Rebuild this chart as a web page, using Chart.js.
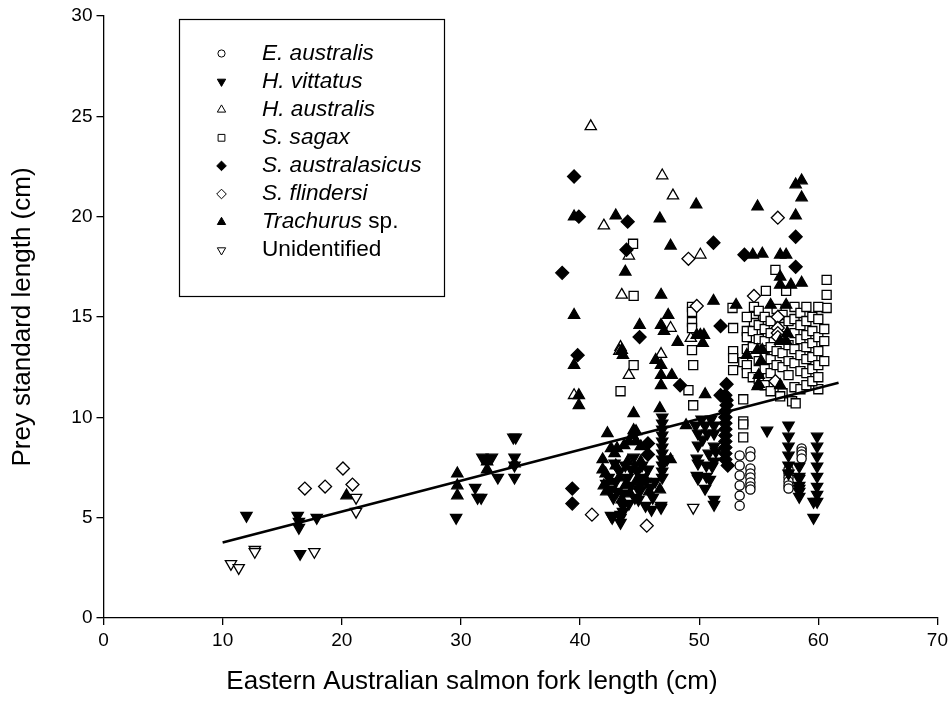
<!DOCTYPE html>
<html>
<head>
<meta charset="utf-8">
<script src="https://cdn.jsdelivr.net/npm/chart.js@4.4.1/dist/chart.umd.min.js"></script>
<style>
  html, body { margin: 0; padding: 0; background: #fff; }
</style>
</head>
<body>
<canvas id="myChart" width="952" height="719"></canvas>
<script>
// prey size vs salmon fork length, one array per prey species
const seriesNames = ['E. australis', 'H. vittatus', 'H. australis', 'S. sagax',
  'S. australasicus', 'S. flindersi', 'Trachurus sp.', 'Unidentified'];
const italicParts = ['E. australis', 'H. vittatus', 'H. australis', 'S. sagax',
  'S. australasicus', 'S. flindersi', 'Trachurus', ''];

const xTicks = [0, 10, 20, 30, 40, 50, 60, 70];
const yTicks = [0, 5, 10, 15, 20, 25, 30];

const eAustralis = [
  [53.4, 8.1], [53.4, 7.6], [53.4, 7.1], [53.4, 6.6], [53.4, 6.1], [53.4, 5.6],
  [54.3, 8.3], [54.3, 8.05], [54.3, 7.45], [54.3, 7.2], [54.3, 7.0], [54.3, 6.75], [54.3, 6.55], [54.3, 6.4],
  [57.5, 7.4], [57.5, 7.2], [57.5, 7.0], [57.5, 6.8], [57.5, 6.6], [57.5, 6.45],
  [58.6, 8.45], [58.6, 8.3], [58.6, 8.15], [58.6, 7.95]
];

const hVittatus = [
  [12.0, 5.1], [16.3, 5.1], [16.4, 4.8], [16.4, 4.5], [16.5, 3.2], [17.9, 5.0],
  [29.6, 5.0], [31.2, 6.5], [31.4, 6.0], [31.7, 6.0], [31.8, 8.0], [32.6, 8.0], [33.1, 7.0],
  [34.4, 9.0], [34.6, 9.0], [34.5, 8.0], [34.5, 7.6], [34.5, 7.0],
  [42.6, 6.4], [44.3, 6.6], [42.7, 5.0], [43.4, 5.0], [43.4, 4.75], [43.6, 5.6], [43.6, 5.3],
  [42.6, 5.1], [43.4, 5.15], [46.1, 6.0], [46.8, 5.6], [46.8, 5.5], [45.0, 6.3], [45.5, 6.8],
  [44.0, 7.0], [43.0, 6.8], [42.4, 7.0], [44.8, 7.3], [45.3, 7.0], [43.8, 7.6], [44.3, 7.4],
  [42.8, 6.0], [43.6, 6.2], [44.9, 5.9], [45.5, 5.6], [44.6, 6.0], [42.2, 6.7], [43.1, 6.3],
  [45.9, 6.5], [44.1, 5.7], [46.3, 6.8], [45.7, 7.4], [43.3, 7.3], [42.9, 7.7], [44.5, 8.0],
  [45.2, 7.6], [46.0, 5.4],
  [46.9, 10.0], [46.9, 9.7], [46.9, 9.4], [46.9, 9.1], [46.9, 8.8], [46.9, 8.5], [46.9, 8.2],
  [46.9, 7.9], [46.9, 7.6], [46.9, 7.3], [46.9, 7.0], [47.3, 7.9],
  [49.7, 9.6], [50.5, 9.6], [51.25, 9.6], [49.9, 9.2], [50.7, 9.2], [51.25, 9.2], [49.9, 8.6],
  [51.25, 8.55], [51.4, 8.3], [49.8, 7.95], [49.9, 7.7], [50.6, 7.6], [51.1, 7.55], [51.25, 7.8],
  [49.8, 7.1], [50.6, 7.05], [49.9, 6.95], [50.5, 6.45], [51.25, 5.9], [51.25, 5.65],
  [50.3, 8.9], [50.8, 8.2], [50.2, 9.9], [51.0, 9.9], [50.9, 6.9],
  [55.7, 9.35], [57.5, 9.6], [57.5, 9.05], [57.5, 8.55], [57.5, 8.1], [57.5, 7.6], [57.5, 7.2],
  [58.4, 7.55], [58.4, 7.05], [58.4, 6.6], [58.4, 6.3], [58.4, 6.05], [58.4, 6.95], [58.4, 6.45],
  [59.9, 9.05], [59.9, 8.55], [59.9, 8.05], [59.9, 7.55], [59.9, 7.05], [59.9, 6.55], [59.9, 6.15],
  [59.9, 5.8], [59.6, 5.8], [59.6, 5.0]
];

const hAustralis = [
  [40.9, 24.5], [42.0, 19.55], [46.9, 22.05], [47.8, 21.05], [44.1, 18.05], [50.1, 18.1],
  [43.5, 16.1], [43.4, 13.5], [43.3, 13.3], [47.6, 14.45], [49.3, 13.95], [46.8, 13.15],
  [44.1, 12.1], [39.5, 11.1]
];

const sSagax = [
  [44.45, 18.65], [44.5, 16.05], [44.5, 12.6], [43.4, 11.3],
  [49.4, 15.5], [49.4, 15.25], [49.4, 14.75], [49.4, 14.45], [49.4, 13.35], [49.5, 12.6],
  [49.1, 11.35], [49.5, 10.6],
  [52.8, 15.45], [52.85, 14.45], [52.85, 13.3], [52.85, 12.95], [52.85, 12.35],
  [53.7, 12.75], [53.7, 10.9], [53.7, 9.8], [53.7, 9.65], [53.7, 9.0],
  [54.6, 15.5], [54.6, 15.0], [54.6, 14.7], [54.0, 14.3], [54.0, 14.0],
  [56.4, 17.35], [57.3, 16.3], [55.6, 16.3], [60.7, 16.85], [60.7, 16.1], [60.7, 15.45],
  [54.0, 15.0], [54.0, 13.4], [54.0, 12.6], [54.0, 12.2],
  [54.5, 14.3], [54.5, 13.5], [54.5, 12.0],
  [55.0, 15.3], [55.0, 14.6], [55.0, 13.9], [55.0, 12.8], [55.0, 11.9],
  [55.5, 15.0], [55.5, 14.4], [55.5, 13.8], [55.5, 13.0], [55.5, 12.4], [55.5, 11.6],
  [56.0, 14.8], [56.0, 14.2], [56.0, 13.5], [56.0, 12.9], [56.0, 12.2], [56.0, 11.3],
  [56.5, 15.4], [56.5, 13.3], [56.5, 12.6],
  [57.0, 15.1], [57.0, 14.5], [57.0, 13.9], [57.0, 13.2], [57.0, 12.5], [57.0, 11.2],
  [57.5, 14.8], [57.5, 13.6], [57.5, 12.8], [57.5, 12.1],
  [57.8, 10.8], [58.1, 10.7], [56.8, 11.05], [60.0, 11.4],
  [58.0, 15.5], [58.0, 14.9], [58.0, 14.2], [58.0, 13.4], [58.0, 12.7], [58.0, 11.5],
  [58.5, 15.2], [58.5, 14.6], [58.5, 13.9], [58.5, 13.1], [58.5, 12.3], [58.5, 11.4],
  [59.0, 15.5], [59.0, 14.8], [59.0, 14.1], [59.0, 13.5], [59.0, 12.9], [59.0, 12.2], [59.0, 11.6],
  [59.5, 15.0], [59.5, 14.3], [59.5, 13.7], [59.5, 13.0], [59.5, 12.4], [59.5, 11.8],
  [60.0, 15.5], [60.0, 14.9], [60.0, 14.0], [60.0, 13.3], [60.0, 12.6], [60.0, 12.0],
  [60.5, 14.4], [60.5, 13.8], [60.5, 12.8]
];

const sAustralasicus = [
  [39.5, 22.0], [39.9, 20.0], [38.5, 17.2], [39.8, 13.1], [39.35, 6.45], [39.35, 5.7],
  [44.0, 19.75], [43.9, 18.35], [45.0, 14.0], [51.2, 18.7], [53.8, 18.1], [58.1, 19.0],
  [58.1, 17.5], [51.8, 14.55], [45.7, 8.7], [45.7, 8.15], [48.4, 11.6],
  [52.3, 11.65], [51.8, 11.1], [52.2, 11.1], [52.3, 10.85], [52.3, 10.6], [52.2, 10.3],
  [52.2, 10.0], [52.2, 9.7], [52.2, 9.4], [52.2, 9.1], [52.2, 8.8], [52.2, 8.5], [52.2, 8.2],
  [52.2, 7.9], [52.4, 7.6]
];

const sFlindersi = [
  [16.9, 6.45], [18.6, 6.55], [20.1, 7.45], [20.9, 6.65], [41.0, 5.15], [45.6, 4.6],
  [49.1, 17.9], [49.8, 15.55], [54.6, 16.05], [56.6, 19.95], [56.6, 15.0], [56.6, 14.45],
  [56.6, 14.2], [56.6, 14.0], [56.4, 11.8]
];

const trachurus = [
  [20.4, 6.1], [29.7, 7.2], [29.7, 6.6], [29.7, 6.1], [32.2, 7.8], [32.2, 7.4], [34.5, 7.7],
  [39.5, 20.0], [39.5, 15.1], [39.5, 12.6], [39.9, 11.1], [39.9, 10.6],
  [43.0, 20.05], [46.7, 19.9], [49.75, 20.6], [54.9, 20.5], [58.1, 21.6], [58.6, 21.8],
  [58.6, 20.95], [58.1, 20.05],
  [47.6, 18.55], [54.5, 18.1], [55.3, 18.15], [56.8, 18.1], [57.3, 18.1],
  [43.8, 17.25], [46.8, 16.1], [51.2, 15.8], [53.1, 15.6], [47.4, 15.1], [46.8, 14.6],
  [47.05, 14.3], [45.0, 14.6], [49.8, 14.1], [50.1, 14.1], [50.4, 14.1], [50.3, 13.7],
  [48.2, 13.75], [43.5, 13.35], [43.6, 13.1],
  [46.35, 12.85], [46.8, 12.6], [46.8, 12.1], [46.8, 11.6], [47.7, 12.1], [50.5, 11.15],
  [44.5, 10.2], [46.7, 10.45], [48.9, 9.6],
  [54.9, 11.55], [56.8, 17.0], [56.8, 16.6], [57.7, 16.6], [58.6, 16.7], [56.0, 15.6], [57.3, 15.6],
  [54.0, 13.1], [54.9, 13.35], [55.3, 13.35], [55.2, 12.8], [55.0, 12.1], [55.0, 11.65],
  [56.8, 13.8], [57.3, 13.8], [57.4, 14.2], [56.8, 11.6],
  [42.3, 9.2], [44.5, 9.35], [44.7, 9.3], [44.4, 9.1], [44.1, 8.8], [44.7, 8.8], [45.1, 8.55],
  [42.6, 8.45], [43.1, 8.45], [42.9, 8.2], [43.7, 8.6], [41.9, 7.9], [41.9, 7.4], [42.15, 7.2],
  [45.1, 7.8], [47.6, 7.9], [46.7, 6.4], [42.0, 6.6], [42.5, 6.8], [43.3, 7.0], [44.0, 7.8],
  [44.6, 7.5], [45.5, 6.9], [43.0, 7.6], [45.8, 6.3], [42.2, 6.3], [44.2, 6.2], [43.8, 6.6],
  [45.0, 6.6], [43.5, 5.9], [44.8, 6.9]
];

const unidentified = [
  [10.7, 2.7], [11.35, 2.5], [12.7, 3.4], [12.7, 3.3], [17.7, 3.3], [21.2, 6.0], [21.2, 5.3], [49.5, 5.5]
];

// least squares fit drawn across the sampled size range
const fitLine = [[10.0, 3.76], [61.7, 11.72]];

const seriesData = [eAustralis, hVittatus, hAustralis, sSagax, sAustralasicus, sFlindersi, trachurus, unidentified];

// marker look per species (same order as seriesNames)
const markers = [
  { style: 'circle', rotation: 0, filled: false, radius: 4.6 },
  { style: 'triangle', rotation: 180, filled: true, radius: 6.5 },
  { style: 'triangle', rotation: 0, filled: false, radius: 6.5 },
  { style: 'rect', rotation: 0, filled: false, radius: 6.4 },
  { style: 'rectRot', rotation: 0, filled: true, radius: 6.5 },
  { style: 'rectRot', rotation: 0, filled: false, radius: 6.5 },
  { style: 'triangle', rotation: 0, filled: true, radius: 6.5 },
  { style: 'triangle', rotation: 180, filled: false, radius: 6.5 }
];

const fontFam = '"Liberation Sans", Arial, sans-serif';
const xTitle = 'Eastern Australian salmon fork length (cm)';

const datasets = seriesData.map(function (pts, i) {
  const m = markers[i];
  return {
    type: 'scatter',
    label: seriesNames[i],
    data: pts.map(p => ({ x: p[0], y: p[1] })),
    pointStyle: m.style,
    rotation: m.rotation,
    pointRadius: m.radius,
    pointBackgroundColor: m.filled ? '#000' : '#fff',
    pointBorderColor: '#000',
    pointBorderWidth: 1.3,
    order: 10 - i
  };
});

datasets.push({
  type: 'line',
  label: 'fit',
  data: fitLine.map(p => ({ x: p[0], y: p[1] })),
  borderColor: '#000',
  borderWidth: 2.6,
  pointRadius: 0,
  fill: false,
  order: 0
});

// boxed legend with italic species names, plus the x title centred on the page
const legendBox = {
  id: 'legendBox',
  afterDraw(chart) {
    const ctx = chart.ctx;
    ctx.save();
    ctx.fillStyle = '#fff';
    ctx.fillRect(179.5, 19.5, 265, 277);
    ctx.strokeStyle = '#000';
    ctx.lineWidth = 1.2;
    ctx.strokeRect(179.5, 19.5, 265, 277);
    ctx.textBaseline = 'middle';
    seriesNames.forEach(function (name, i) {
      const y = 53.5 + i * 28.1;
      const m = markers[i];
      ctx.fillStyle = m.filled ? '#000' : '#fff';
      ctx.strokeStyle = '#000';
      ctx.lineWidth = 1;
      Chart.helpers.drawPoint(ctx, {
        pointStyle: m.style,
        rotation: m.rotation,
        radius: m.style === 'circle' ? 3.6 : 4.8,
        borderWidth: 1
      }, 221.5, y);
      ctx.fillStyle = '#000';
      let x = 262;
      const it = italicParts[i];
      if (it) {
        ctx.font = 'italic 22.6px ' + fontFam;
        ctx.fillText(it, x, y);
        x += ctx.measureText(it).width;
      }
      const rest = name.slice(it.length);
      if (rest) {
        ctx.font = '22.6px ' + fontFam;
        ctx.fillText(rest, x, y);
      }
    });

    ctx.fillStyle = '#000';
    ctx.font = '26px ' + fontFam;
    ctx.textAlign = 'center';
    ctx.fillText(xTitle, 472, 682);
    ctx.restore();
  }
};

const ctx = document.getElementById('myChart');
const chart1 = new Chart(ctx, {
  data: { datasets: datasets },
  plugins: [legendBox],
  options: {
    responsive: false,
    animation: false,
    devicePixelRatio: 1,
    layout: { padding: { top: 16, right: 14, left: 0, bottom: 0 } },
    plugins: { legend: { display: false }, tooltip: { enabled: false } },
    scales: {
      x: {
        type: 'linear',
        min: 0,
        max: 70,
        afterBuildTicks(s) { s.ticks = xTicks.map(v => ({ value: v })); },
        afterFit(s) { s.height = 101; },
        ticks: { color: '#000', padding: 4, font: { family: fontFam, size: 19 } },
        grid: { drawOnChartArea: false, color: '#000', lineWidth: 1.3, tickLength: 7 },
        border: { display: true, color: '#000', width: 1.3 }
      },
      y: {
        type: 'linear',
        min: 0,
        max: 30,
        afterBuildTicks(s) { s.ticks = yTicks.map(v => ({ value: v })); },
        afterFit(s) { s.width = 103.5; },
        ticks: { color: '#000', padding: 4, font: { family: fontFam, size: 19 } },
        grid: { drawOnChartArea: false, color: '#000', lineWidth: 1.3, tickLength: 7 },
        border: { display: true, color: '#000', width: 1.3 },
        title: {
          display: true,
          text: 'Prey standard length (cm)',
          color: '#000',
          font: { family: fontFam, size: 26 },
          padding: { top: 7, bottom: 0 }
        }
      }
    }
  }
});
</script>
</body>
</html>
